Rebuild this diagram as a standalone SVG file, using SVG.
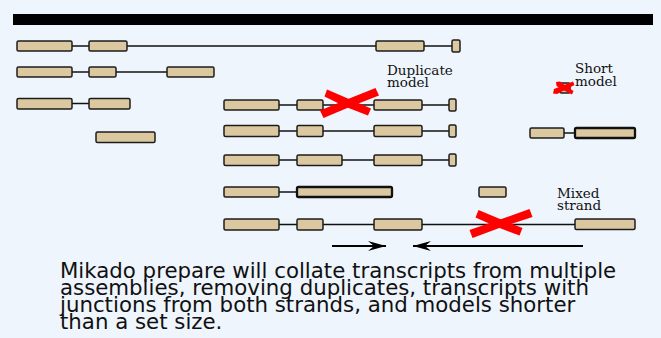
<svg xmlns="http://www.w3.org/2000/svg" width="661" height="338" viewBox="0 0 661 338">
<style>
.ex{fill:#dcc8a0;stroke:#1c1c1c;stroke-width:1.5}
.exb{fill:#dcc8a0;stroke:#111;stroke-width:2.3}
.in{stroke:#111;stroke-width:1.5;fill:none}
.lab{font-family:"DejaVu Serif","Liberation Serif",serif;font-size:13.5px;fill:#111}
.cap{font-family:"DejaVu Sans","Liberation Sans",sans-serif;font-size:21.3px;fill:#111}
.x{fill:#ff0000;stroke:none}
.arr{stroke:#000;stroke-width:2;fill:none}
</style>
<defs>
<marker id="ah" markerWidth="20" markerHeight="12" refX="18" refY="6" orient="auto" markerUnits="userSpaceOnUse">
<path d="M0,1 L18,6 L0,11 L6,6 Z" fill="#000"/>
</marker>
</defs>
<rect x="0" y="0" width="661" height="338" fill="#eef5fc"/>
<rect x="13" y="14" width="640" height="11" fill="#000"/>

<g id="t1">
<line class="in" x1="72" y1="46" x2="452" y2="46"/>
<rect class="ex" x="17" y="41" width="55" height="10" rx="1.5"/>
<rect class="ex" x="89" y="41" width="38" height="10" rx="1.5"/>
<rect class="ex" x="376" y="41" width="48" height="10" rx="1.5"/>
<rect class="ex" x="452" y="40" width="8" height="12" rx="1.5"/>
</g>
<g id="t2">
<line class="in" x1="72" y1="72" x2="167" y2="72"/>
<rect class="ex" x="17" y="67" width="55" height="10" rx="1.5"/>
<rect class="ex" x="89" y="67" width="27" height="10" rx="1.5"/>
<rect class="ex" x="167" y="67" width="47" height="10" rx="1.5"/>
</g>
<g id="t3">
<line class="in" x1="72" y1="103.5" x2="89" y2="103.5"/>
<rect class="ex" x="17" y="98.5" width="55" height="10.5" rx="1.5"/>
<rect class="ex" x="89" y="98.5" width="41" height="10.5" rx="1.5"/>
</g>
<g id="t4">
<rect class="ex" x="96" y="132" width="59" height="10.5" rx="1.5"/>
</g>
<g id="dup1">
<line class="in" x1="279" y1="105" x2="449" y2="105"/>
<rect class="ex" x="224" y="100" width="55" height="10" rx="1.5"/>
<rect class="ex" x="297" y="100" width="26" height="10" rx="1.5"/>
<rect class="ex" x="374" y="100" width="48" height="10" rx="1.5"/>
<rect class="ex" x="449" y="99" width="7" height="12" rx="1.5"/>
</g>
<g id="dup2">
<line class="in" x1="279" y1="131" x2="449" y2="131"/>
<rect class="ex" x="224" y="125.5" width="55" height="11" rx="1.5"/>
<rect class="ex" x="297" y="125.5" width="26" height="11" rx="1.5"/>
<rect class="ex" x="374" y="125.5" width="48" height="11" rx="1.5"/>
<rect class="ex" x="449" y="125" width="7" height="12" rx="1.5"/>
</g>
<g id="t7">
<line class="in" x1="279" y1="160" x2="449" y2="160"/>
<rect class="ex" x="224" y="155" width="55" height="10.5" rx="1.5"/>
<rect class="ex" x="297" y="155" width="45" height="10.5" rx="1.5"/>
<rect class="ex" x="374" y="155" width="48" height="10.5" rx="1.5"/>
<rect class="ex" x="449" y="154" width="7" height="12" rx="1.5"/>
</g>
<g id="t8">
<line class="in" x1="279" y1="192" x2="297" y2="192"/>
<rect class="ex" x="224" y="187" width="55" height="10" rx="1.5"/>
<rect class="exb" x="297" y="187" width="95" height="10" rx="1.5"/>
</g>
<g id="t9">
<rect class="ex" x="479" y="187" width="27" height="10" rx="1.5"/>
</g>
<g id="mixed">
<line class="in" x1="279" y1="224.5" x2="575" y2="224.5"/>
<rect class="ex" x="224" y="219" width="55" height="11" rx="1.5"/>
<rect class="ex" x="297" y="219" width="26" height="11" rx="1.5"/>
<rect class="ex" x="374" y="219" width="48" height="11" rx="1.5"/>
<rect class="ex" x="575" y="219" width="60" height="10.5" rx="1.5"/>
</g>
<g id="short">
<rect class="ex" x="560" y="83" width="10" height="10" rx="1.5"/>
</g>
<g id="t12">
<line class="in" x1="564" y1="133" x2="575" y2="133"/>
<rect class="ex" x="530" y="128" width="34" height="10" rx="1.5"/>
<rect class="exb" x="575" y="128" width="60" height="10" rx="1.5"/>
</g>

<g id="crosses">
<path class="x" d="M327,89.5 L349,99 L371,108.5 L368,115.5 L346,107 L324.5,96.5 Z"/>
<path class="x" d="M375.5,88 L379,95.5 L352,106 L323.5,118 L320,110.5 L348,99 Z"/>
<path class="x" d="M478.5,210 L500,219 L522.5,228 L519.5,235.5 L497,227 L475.5,217.5 Z"/>
<path class="x" d="M529.5,209 L532.5,217 L502,227 L472.5,238 L469.5,230 L500,219.5 Z"/>
<path class="x" d="M556,82 L560,81.5 L566,86 L573.5,91 L572,94.5 L565,91 L556.5,86 Z"/>
<path class="x" d="M573,81.5 L574.5,85 L566,89.5 L557,94 L553,93.5 L554,89 L563,85.5 Z"/>
</g>

<g id="connectors">
<line class="arr" x1="332" y1="246" x2="386" y2="246" marker-end="url(#ah)"/>
<line class="arr" x1="583" y1="246" x2="413" y2="246" marker-end="url(#ah)"/>
</g>

<g id="labels">
<text class="lab" x="387" y="75">Duplicate</text>
<text class="lab" x="387" y="87">model</text>
<text class="lab" x="575" y="73">Short</text>
<text class="lab" x="575" y="86">model</text>
<text class="lab" x="557" y="197.5">Mixed</text>
<text class="lab" x="557" y="210">strand</text>
</g>
<g id="caption">
<text class="cap" x="60" y="278">Mikado prepare will collate transcripts from multiple</text>
<text class="cap" x="60" y="295">assemblies, removing duplicates, transcripts with</text>
<text class="cap" x="60" y="312">junctions from both strands, and models shorter</text>
<text class="cap" x="60" y="329">than a set size.</text>
</g>
</svg>
